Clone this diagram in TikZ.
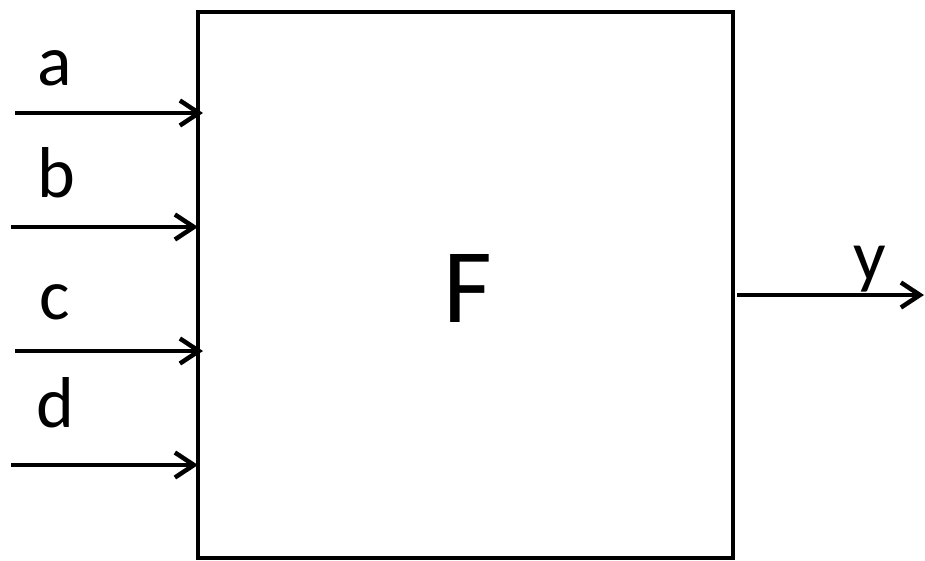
\documentclass[tikz,border=0pt]{standalone}
\usepackage{fontspec}
\setmainfont{Carlito}
\usetikzlibrary{arrows.meta}
\begin{document}
\begin{tikzpicture}[x=1pt,y=-1pt,
  wire/.style={line width=4.5pt,-{Straight Barb[length=19pt,width=25pt,line width=4.5pt]}},
  lbl/.style={anchor=base,inner sep=0pt,font=\fontsize{72}{72}\selectfont},
  blk/.style={draw,line width=3.5pt}]
\useasboundingbox (0,0) rectangle (925,560);
\draw[blk] (198,12) rectangle (733,558);
\node[lbl,font=\fontsize{106}{106}\selectfont] (F) at (468,322) {F};
\coordinate (a0) at (15,113); \coordinate (a1) at (203,113);
\coordinate (b0) at (11,227); \coordinate (b1) at (198,227);
\coordinate (c0) at (15,351); \coordinate (c1) at (203,351);
\coordinate (d0) at (11,465); \coordinate (d1) at (198,465);
\coordinate (y0) at (737,295); \coordinate (y1) at (924,295);
\draw[wire] (a0) -- (a1);
\draw[wire] (b0) -- (b1);
\draw[wire] (c0) -- (c1);
\draw[wire] (d0) -- (d1);
\draw[wire] (y0) -- (y1);
\node[lbl] (la) at (55,85) {a};
\node[lbl] (lb) at (56,197) {b};
\node[lbl] (lc) at (55,319) {c};
\node[lbl] (ld) at (55,427) {d};
\node[lbl] (ly) at (870,280) {y};
\end{tikzpicture}
\end{document}
